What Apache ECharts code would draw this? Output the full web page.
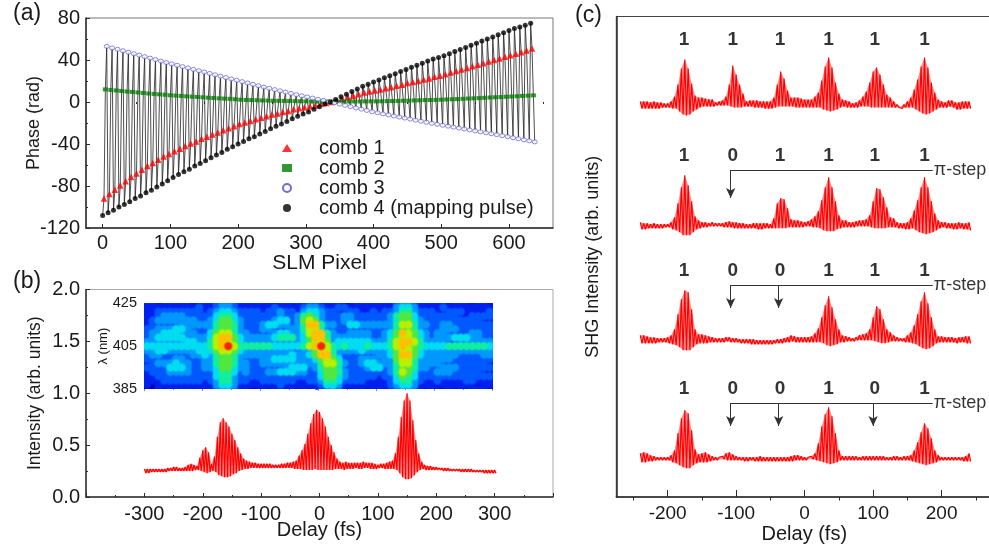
<!DOCTYPE html>
<html><head><meta charset="utf-8">
<style>html,body{margin:0;padding:0;background:#fff;overflow:hidden}#c{width:989px;height:545px}</style>
<script src="https://cdn.jsdelivr.net/npm/echarts@6/dist/echarts.min.js"></script>
</head><body><div id="c"></div>
<script>
// ---------- panel (a): phase of the four combs, one value every 8 SLM pixels
const combPeriod = 8;
const combOffsets = [0, 2, 4, 6];
const comb4 = [-108,-105.5,-103,-100,-97.5,-95,-92,-89.5,-86.5,-84,
 -81,-78,-75,-72,-69,-66.5,-64,-61,-58.5,-56,
 -53,-50.5,-48,-45,-42.5,-40,-37.5,-35,-33,-30.5,
 -28,-25.5,-23,-21,-18.5,-16,-13.5,-11.5,-9.5,-7,
 -4.5,-2,0,2.5,5,7.5,10,12.5,15,17,
 19,21,23,25,27,29,31,33,35,37,
 39,41,42.5,44,46,48,50,52,54,56,
 58,60,62,64,66,68,70,71.5,73,75];
const comb1 = [-92,-87.5,-83.5,-79.5,-75.5,-71.5,-68,-64.5,-61,-58,
 -55,-52,-49.5,-47,-44.5,-42,-39.5,-37.5,-35,-33,
 -31,-29,-27,-25,-23,-21,-19.5,-18,-16.5,-15,
 -13.5,-12,-11,-9.5,-8.5,-7,-6,-5,-4,-3,
 -2,-1,0,1.5,3,4.5,6,7.5,9,10,
 11,12,13,14,15.5,16.5,18,19,20,21.5,
 22.5,24,25,26.5,28,29.5,31,32.5,34,35.5,
 37,38.5,40,41.5,43,44.5,46,47.5,49,51];
const comb2 = [12,11.5,11,10.5,10,9.6,9.1,8.6,8.1,7.7,
 7.3,6.9,6.4,6.1,5.8,5.4,5.1,4.8,4.5,4.1,
 3.8,3.5,3.2,3,2.6,2.2,2,1.8,1.7,1.5,
 1.4,1.2,1.1,1,.9,.8,.7,.6,.5,.4,
 .4,.4,.4,.4,.4,.5,.5,.5,.6,.6,
 .6,.7,.8,.9,1,1.2,1.3,1.5,1.6,1.8,
 1.9,2,2.2,2.4,2.6,2.8,3,3.3,3.5,3.7,
 4,4.3,4.5,4.7,5,5.2,5.5,5.8,6,6.3];
const comb3 = [53,51.5,50.2,48.8,47.4,46,44.6,43.2,41.8,40.4,
 39,37.6,36.3,35,33.7,32.4,31.1,29.8,28.5,27.2,
 25.9,24.6,23.3,22,20.7,19.4,18.1,16.8,15.5,14.2,
 13,11.8,10.6,9.4,8.2,7,5.9,4.8,3.7,2.6,
 1.5,.3,-.8,-2,-3.2,-4.4,-5.6,-6.8,-8,-9.3,
 -10.3,-11.3,-12.3,-13.3,-14.3,-15.3,-16.3,-17.3,-18.3,-19.3,
 -20.3,-21.2,-22.1,-23,-23.9,-24.8,-25.7,-26.6,-27.5,-28.4,
 -29.3,-30.2,-31.1,-32,-33,-34,-35,-36,-37,-38];
const combNames = ['comb 1','comb 2','comb 3','comb 4 (mapping pulse)'];

// ---------- panel (b): upper and lower fringe envelope, every 5 fs from -300 to 300
const bStart = -300, bStep = 5;
const bUpper = [.27,.27,.27,.27,.27,.27,.27,.27,.28,.28,
 .29,.29,.28,.28,.29,.31,.32,.31,.30,.38,
 .45,.48,.43,.32,.39,.58,.72,.76,.72,.68,
 .61,.55,.48,.42,.37,.35,.34,.33,.33,.32,
 .32,.32,.32,.32,.31,.31,.31,.32,.32,.33,
 .33,.34,.35,.40,.45,.51,.61,.71,.80,.84,
 .82,.76,.68,.58,.50,.43,.37,.34,.33,.34,
 .33,.33,.33,.33,.33,.34,.33,.33,.33,.32,
 .31,.32,.32,.33,.34,.35,.42,.58,.77,.93,
 1.0,.93,.74,.55,.42,.34,.31,.30,.30,.29,
 .29,.28,.28,.28,.28,.27,.27,.27,.27,.27,
 .27,.27,.27,.26,.26,.26,.26,.26,.26,.26,.26];
const bLower = [.23,.23,.24,.24,.24,.24,.24,.24,.25,.25,
 .25,.25,.25,.25,.25,.25,.25,.26,.26,.25,
 .24,.23,.24,.25,.24,.21,.20,.19,.19,.20,
 .22,.23,.25,.26,.27,.27,.28,.28,.28,.28,
 .28,.28,.28,.28,.28,.28,.28,.28,.28,.28,
 .28,.27,.27,.27,.26,.26,.26,.26,.27,.26,
 .26,.26,.26,.26,.26,.27,.27,.27,.26,.27,
 .27,.27,.28,.27,.27,.28,.28,.27,.27,.27,
 .28,.28,.27,.27,.27,.27,.26,.23,.19,.17,
 .17,.18,.21,.24,.26,.27,.26,.26,.26,.26,
 .26,.26,.25,.25,.25,.25,.25,.25,.24,.24,
 .24,.24,.24,.24,.24,.24,.23,.23,.23,.23,.23];

// ---------- inset of (b): spectrogram levels 0-9, rows 425 to 385 nm, columns 10 fs wide
const heatDelayStart = -300, heatDelayStep = 10, heatNmStart = 425, heatNmStep = -2;
const heatRows = [
"1101111101 1123321111 1101111122 1111001111 1112332111 1101110110",
"1111111112 1123321111 1121111233 2112211111 1113443111 1211111111",
"1122222222 1234432222 1223221344 3221122112 1223553222 1122211112",
"1123333222 2245542222 2223223564 3222332222 2235664222 2222112222",
"1233333332 2346643222 2234423676 3222332222 2234664322 2222222211",
"1222223333 3356653222 3443323588 5332244333 3335775332 2332222222",
"2233344322 2356653222 3322233577 4222222222 2235665322 2333222222",
"2334443332 2467753322 2234433478 8532233332 2346876432 3322223322",
"2344444333 3478864333 3345553468 8533333332 2346776432 3334443322",
"3333333443 3578764333 3333333457 7634444443 3357887533 3322333333",
"4444444444 4578975555 5544444578 9754544454 4457876544 4455555554",
"3344333334 4467764333 3333322336 7753333433 3346776433 3333333333",
"2332222233 4356653333 3333343346 8853222222 3346886433 3333222233",
"2222233222 3356653222 3344443324 6764222333 2336775333 3332222222",
"1233343322 3356653322 3333333333 5775322344 3335775333 3222222221",
"2222444322 3346643322 2222344423 5664222234 4235665332 2333222222",
"1222333322 2245542322 2334443322 4665322222 2235764222 3332222211",
"1122222222 2245532222 2222222222 4664322222 1224654222 2222222222",
"1112222222 1235532211 2222221122 3554222211 1124553211 2111122111",
"1011111111 1134431111 1112111111 2443111111 1123443111 1111111011",
"0010111101 1123321100 1011110101 1232101101 1012332101 0010101110"];

// ---------- panel (c): fringe envelopes relative to each trace baseline, every 5 fs from -240 to 240
const cStart = -240, cStep = 5;
const c1Upper = [3,3,3,2,3,2,2,1,1,3, 8,20,36,45,36,21,9,7,7,6, 5,5,2,3,4,8,20,39,30,20,
 11,3,4,4,4,3,3,3,3,7, 20,33,26,14,7,7,7,6,5,5, 5,8,12,24,38,47,37,22,11,5,
 4,3,1,2,4,8,13,22,33,37, 30,20,10,7,3,0,-2,0,3,7, 15,25,38,47,37,22,12,5,3,2, 4,4,2,2,3,3,3];
const c1Lower = [-4,-4,-4,-4,-4,-4,-3,-3,-3,-4, -4,-7,-10,-11,-10,-7,-5,-3,-2,-2, -2,-2,-1,-1,-1,-1,-2,-3,-3,-3,
 -2,-2,-2,-3,-3,-3,-4,-4,-4,-3, -2,-2,-2,-2,-2,-3,-3,-3,-3,-3, -3,-3,-3,-5,-6,-7,-6,-5,-3,-2,
 -3,-3,-3,-3,-2,-2,-2,-3,-3,-3, -3,-3,-3,-3,-3,-3,-4,-3,-3,-3, -5,-7,-9,-10,-9,-7,-5,-3,-3,-3, -2,-3,-5,-5,-4,-4,-4];
const c2Upper = [3,2,2,1,2,1,1,1,1,3, 8,22,38,50,40,24,9,5,3,3, 2,3,2,2,2,3,4,3,3,2,
 2,1,1,2,2,2,2,2,1,7, 22,27,26,17,6,5,5,4,3,4, 6,9,14,25,38,48,38,24,10,5,
 5,3,3,4,5,5,6,10,24,37, 36,28,18,8,7,3,2,2,3,7, 15,25,38,48,38,24,12,5,3,3, 2,2,2,3,2,2,3];
const c2Lower = [-4,-4,-3,-3,-3,-3,-3,-2,-2,-4, -5,-7,-10,-10,-10,-7,-4,-3,-2,-2, -1,-1,-1,-1,-2,-2,-2,-3,-3,-3,
 -3,-3,-3,-3,-4,-4,-3,-3,-3,-3, -3,-3,-3,-2,-2,-2,-2,-2,-1,-1, -2,-2,-3,-5,-6,-6,-6,-4,-3,-2,
 -2,-2,-2,-1,-1,-1,-1,-2,-3,-3, -3,-3,-2,-2,-2,-3,-3,-4,-4,-3, -5,-7,-8,-9,-8,-7,-5,-3,-2,-3, -3,-4,-4,-3,-4,-4,-5];
const c3Upper = [4,4,3,2,2,1,1,1,2,4, 10,25,40,49,47,30,10,5,5,4, 3,2,1,1,1,2,2,1,1,0,
 0,0,0,0,-1,-1,-1,-1,-1,-1, 0,0,1,2,4,3,2,2,2,2, 3,6,11,22,34,43,32,20,10,4,
 3,2,1,2,4,5,6,10,22,33, 30,20,10,7,4,2,1,1,4,7, 14,25,38,47,36,22,10,3,3,2, 2,2,1,2,2,3,3];
const c3Lower = [-4,-4,-4,-4,-4,-3,-3,-3,-4,-5, -6,-8,-11,-11,-11,-8,-5,-4,-4,-4, -3,-3,-3,-3,-3,-2,-3,-3,-3,-4,
 -4,-4,-5,-5,-5,-5,-5,-5,-5,-4, -4,-4,-3,-3,-2,-3,-3,-3,-3,-3, -3,-3,-3,-4,-6,-7,-6,-5,-3,-3,
 -2,-2,-2,-1,-1,-1,-1,-1,-2,-3, -4,-4,-3,-2,-2,-2,-2,-3,-3,-4, -5,-7,-9,-10,-9,-7,-4,-3,-3,-3, -3,-3,-4,-3,-3,-4,-4];
const c4Upper = [5,6,5,3,2,1,1,1,1,3, 8,25,40,48,45,28,9,4,5,6, 4,2,1,1,2,5,6,4,2,1,
 1,1,1,1,1,2,1,1,1,1, 1,1,1,1,2,3,3,2,1,1, 2,5,15,32,44,51,42,25,8,2,
 2,2,2,2,1,2,2,2,2,2, 2,2,1,1,2,2,1,2,2,3, 8,16,26,35,30,20,8,3,1,1, 1,1,1,1,1,2,5];
const c4Lower = [-4,-4,-3,-3,-2,-2,-2,-2,-2,-4, -5,-7,-9,-10,-10,-7,-5,-4,-4,-4, -3,-2,-2,-1,-1,-2,-2,-2,-2,-2,
 -3,-3,-2,-3,-3,-3,-3,-3,-3,-3, -3,-3,-3,-3,-3,-2,-2,-2,-2,-1, -1,-2,-3,-4,-5,-6,-5,-4,-2,-2,
 -2,-2,-2,-2,-2,-2,-2,-2,-2,-2, -2,-2,-2,-2,-2,-2,-2,-2,-2,-3, -4,-5,-6,-7,-6,-5,-4,-2,-2,-2, -2,-2,-2,-2,-3,-3,-3];
const cBaselines = [392.5, 271.7, 157.7, 38.7];

// bit words above each trace
const bitDelays = [-176,-105,-36,35,102.5,175];
const bitWords = ['111111','101111','100111','100101'];
const bitHeights = [457,341,226,108];
// pi-step annotations: [line height, arrow tip height, arrow delays]
const stepHeights = [327,212,94];
const stepTips = [299,189,71];
const stepDelays = [[-108],[-108,-38],[-108,-38,100]];
const stepLineEnd = 187;

// ---------- axis labels
const aXTicks = [0,100,200,300,400,500,600];
const aXMinor = [50,150,250,350,450,550,650];
const cXTicks = [-200,-100,0,100,200];
const cXMinor = [-250,-150,-50,50,150,250];

const FONT = '"Liberation Sans", Arial, sans-serif';
const INK = '#2b2b2b';
const heatColors = ['#0000b4','#0020f0','#0058ff','#0098ff','#00dcf0','#10eea0','#50e840','#b8f000','#ffc000','#ff2000'];

const zigzag = (start, step, up, lo, base) => {
  const out = [];
  up.forEach((u, i) => {
    out.push([start + i*step, base + u]);
    out.push([start + i*step + step/2, base + lo[i]]);
  });
  return out;
};
const envelope = (name, xIdx, yIdx, start, step, up, lo, base) => ({
  type:'custom', name, xAxisIndex:xIdx, yAxisIndex:yIdx, silent:true, z:3,
  data:[[start, base]], clip:false,
  renderItem:(p, api) => {
    const top = up.map((u,i)=>api.coord([start+i*step, base+u]));
    const bot = lo.map((l,i)=>api.coord([start+i*step+step/2, base+l])).reverse();
    return {type:'polygon', shape:{points:top.concat(bot)}, style:{fill:'rgba(255,0,0,0.45)'}};
  }
});
const traceLine = (name, xIdx, yIdx, start, step, up, lo, base) => ({
  type:'line', name, xAxisIndex:xIdx, yAxisIndex:yIdx, z:4, silent:true,
  showSymbol:false, symbol:'none', smooth:false, clip:false,
  lineStyle:{color:'#ff0000', width:1.15},
  data:zigzag(start, step, up, lo, base)
});

const bandAxis = {axisLine:{show:true,onZero:false,lineStyle:{color:INK,width:1.5}}};
const label = (size) => ({color:'#1a1a1a', fontFamily:FONT, fontSize:size});

const grids = [
  {left:86, top:18, width:467, height:210, show:true, borderColor:'#777', borderWidth:1, backgroundColor:'transparent', outerBoundsMode:'none'},
  {left:86, top:289.5, width:467, height:207.5, show:true, borderColor:'#aaa', borderWidth:1, backgroundColor:'transparent', outerBoundsMode:'none'},
  {left:144, top:303.3, width:348.7, height:85.7, show:true, borderWidth:0, backgroundColor:heatColors[1], outerBoundsMode:'none'},
  {left:616.3, top:16.5, width:376, height:480.5, show:true, borderColor:'#444', borderWidth:1, backgroundColor:'transparent', outerBoundsMode:'none'}
];
const nameStyle = (size) => ({color:'#1a1a1a', fontFamily:FONT, fontSize:size});

const xAxes = [
  {type:'value', gridIndex:0, min:-24.6, max:665, ...bandAxis, splitLine:{show:false},
   axisTick:{show:true, inside:true, length:4, customValues:aXTicks, lineStyle:{color:INK}},
   axisLabel:{...label(20), margin:5, customValues:aXTicks},
   name:'SLM Pixel', nameLocation:'middle', nameGap:25, nameMoveOverlap:false, nameTextStyle:nameStyle(21)},
  {type:'value', gridIndex:0, min:-24.6, max:665, axisLine:{show:false}, splitLine:{show:false},
   axisTick:{show:true, inside:true, length:2, customValues:aXMinor, lineStyle:{color:INK}},
   axisLabel:{show:false}},
  {type:'value', gridIndex:1, min:-400, max:400, interval:100, ...bandAxis, splitLine:{show:false},
   axisTick:{show:true, inside:true, length:4, lineStyle:{color:INK}},
   minorTick:{show:true, splitNumber:2, length:2, lineStyle:{color:INK}}, minorSplitLine:{show:false},
   axisLabel:{...label(20), margin:7, formatter:v=>Math.abs(v)===400?'':String(v)},
   name:'Delay (fs)', nameLocation:'middle', nameGap:23, nameMoveOverlap:false, nameTextStyle:nameStyle(20)},
  {type:'value', gridIndex:2, min:-300, max:300, interval:100, position:'bottom',
   axisLine:{show:false}, splitLine:{show:false},
   axisTick:{show:true, length:2, lineStyle:{color:'#888'}},
   minorTick:{show:true, splitNumber:2, length:1, lineStyle:{color:'#888'}},
   axisLabel:{show:false}},
  {type:'value', gridIndex:3, min:-275, max:274, ...bandAxis, splitLine:{show:false},
   axisTick:{show:true, inside:true, length:7, customValues:cXTicks, lineStyle:{color:INK}},
   axisLabel:{...label(19), margin:7, customValues:cXTicks},
   name:'Delay (fs)', nameLocation:'middle', nameGap:27, nameMoveOverlap:false, nameTextStyle:nameStyle(20)},
  {type:'value', gridIndex:3, min:-275, max:274, axisLine:{show:false}, splitLine:{show:false},
   axisTick:{show:true, inside:true, length:3.5, customValues:cXMinor, lineStyle:{color:INK}},
   axisLabel:{show:false}}
];
const yAxes = [
  {type:'value', gridIndex:0, min:-120, max:80, interval:40, ...bandAxis, splitLine:{show:false},
   axisTick:{show:true, inside:true, length:4, lineStyle:{color:INK}},
   minorTick:{show:true, splitNumber:2, length:2, lineStyle:{color:INK}}, minorSplitLine:{show:false},
   axisLabel:{...label(20), margin:6, formatter:v=>String(v)},
   name:'Phase (rad)', nameLocation:'middle', nameGap:43, nameMoveOverlap:false, nameTextStyle:nameStyle(18)},
  {type:'value', gridIndex:1, min:0, max:2, interval:0.5, ...bandAxis, splitLine:{show:false},
   axisTick:{show:true, inside:true, length:4, lineStyle:{color:INK}},
   minorTick:{show:true, splitNumber:2, length:2, lineStyle:{color:INK}}, minorSplitLine:{show:false},
   axisLabel:{...label(20), margin:6, formatter:v=>v.toFixed(1)},
   name:'Intensity (arb. units)', nameLocation:'middle', nameGap:42, nameMoveOverlap:false, nameTextStyle:nameStyle(17.5)},
  {type:'value', gridIndex:2, min:385, max:425, interval:20, position:'left',
   axisLine:{show:false}, splitLine:{show:false},
   axisTick:{show:true, length:3, lineStyle:{color:'#666'}},
   minorTick:{show:true, splitNumber:2, length:2, lineStyle:{color:'#666'}},
   axisLabel:{...label(14.5), margin:7},
   name:'λ (nm)', nameLocation:'middle', nameGap:34, nameMoveOverlap:false, nameTextStyle:nameStyle(13)},
  {type:'value', gridIndex:3, min:0, max:480.5, ...bandAxis, splitLine:{show:false},
   axisTick:{show:false}, axisLabel:{show:false},
   name:'SHG Intensity (arb. units)', nameLocation:'middle', nameGap:14, nameMoveOverlap:false, nameTextStyle:nameStyle(18)}
];

// comb sequence: comb 4, 1, 2, 3 repeating, joined by a thin line
const combSets = [comb1, comb2, comb3, comb4];
const combOffsetOf = [combOffsets[1], combOffsets[2], combOffsets[3], combOffsets[0]];
const combPoints = k => combSets[k].map((v,i)=>[i*combPeriod+combOffsetOf[k], v]);
const sequence = [];
comb4.forEach((_,i)=>{ [3,0,1,2].forEach(k=>sequence.push(combPoints(k)[i])); });
const combStyle = [
  {symbol:'triangle', symbolSize:6.5, itemStyle:{color:'#ff0000'}},
  {symbol:'rect', symbolSize:[5,4], itemStyle:{color:'#007a00'}},
  {symbol:'circle', symbolSize:[5,4], itemStyle:{color:'#fff', borderColor:'#4a4ac8', borderWidth:0.8}},
  {symbol:'circle', symbolSize:5, itemStyle:{color:'#000'}}
];

const heatData = [];
heatRows.forEach((r,ri)=>{ r.replace(/ /g,'').split('').forEach((ch,ci)=>{
  heatData.push([heatDelayStart+ci*heatDelayStep, heatNmStart+ri*heatNmStep, +ch]);
});});
heatData.sort((a,b)=>a[2]-b[2]);
const transparentOf = hex => 'rgba('+parseInt(hex.slice(1,3),16)+','+parseInt(hex.slice(3,5),16)+','+parseInt(hex.slice(5,7),16)+',0)';

const bitData = [];
bitWords.forEach((w,ri)=>w.split('').forEach((b,ci)=>bitData.push([bitDelays[ci], bitHeights[ri], b])));
const stepLines = [];
stepHeights.forEach((h,ri)=>{
  stepLines.push([{coord:[stepDelays[ri][0],h],symbol:'none'},{coord:[stepLineEnd,h],symbol:'none'}]);
  stepDelays[ri].forEach(t=>stepLines.push([{coord:[t,h],symbol:'none'},{coord:[t,stepTips[ri]],symbol:'arrow'}]));
});

const series = [
  {type:'line', name:'sequence', xAxisIndex:0, yAxisIndex:0, z:2, silent:true, showSymbol:false, symbol:'none',
   lineStyle:{color:'#222', width:0.8}, data:sequence},
  ...combNames.map((n,k)=>({type:'scatter', name:n, xAxisIndex:0, yAxisIndex:0, z:3, silent:true,
     ...combStyle[k], data:combPoints(k)})),
  {type:'custom', name:'spectrogram', xAxisIndex:3, yAxisIndex:2, silent:true, z:2, clip:true,
   encode:{x:0,y:1}, data:heatData,
   renderItem:(p, api)=>{
     const t=api.value(0), nm=api.value(1), lv=api.value(2);
     const a=api.coord([t-heatDelayStep*0.8,nm+2.4]), b=api.coord([t+heatDelayStep*1.8,nm-2.4]);
     const col=heatColors[lv];
     return {type:'rect', shape:{x:a[0],y:a[1],width:b[0]-a[0],height:b[1]-a[1]},
       style:{fill:new echarts.graphic.RadialGradient(0.5,0.5,0.5,[
         {offset:0,color:col},{offset:0.55,color:col},{offset:1,color:transparentOf(col)}])}};
   }},
  envelope('b-env',2,1,bStart,bStep,bUpper,bLower,0),
  traceLine('b',2,1,bStart,bStep,bUpper,bLower,0),
  envelope('c1-env',4,3,cStart,cStep,c1Upper,c1Lower,cBaselines[0]),
  traceLine('c1',4,3,cStart,cStep,c1Upper,c1Lower,cBaselines[0]),
  envelope('c2-env',4,3,cStart,cStep,c2Upper,c2Lower,cBaselines[1]),
  traceLine('c2',4,3,cStart,cStep,c2Upper,c2Lower,cBaselines[1]),
  envelope('c3-env',4,3,cStart,cStep,c3Upper,c3Lower,cBaselines[2]),
  traceLine('c3',4,3,cStart,cStep,c3Upper,c3Lower,cBaselines[2]),
  envelope('c4-env',4,3,cStart,cStep,c4Upper,c4Lower,cBaselines[3]),
  traceLine('c4',4,3,cStart,cStep,c4Upper,c4Lower,cBaselines[3]),
  {type:'scatter', name:'bits', xAxisIndex:4, yAxisIndex:3, z:5, silent:true, symbolSize:0, clip:false,
   data:bitData,
   label:{show:true, position:'inside', formatter:p=>p.value[2], color:'#000', fontFamily:FONT, fontSize:19, fontWeight:'bold'},
   markLine:{silent:true, animation:false, symbolSize:[7,10], label:{show:false},
     lineStyle:{color:'#333', width:1, type:'solid'}, emphasis:{disabled:true}, data:stepLines}},
  {type:'scatter', name:'pi-step', xAxisIndex:4, yAxisIndex:3, z:5, silent:true, symbolSize:0, clip:false,
   data:stepHeights.map(h=>[stepLineEnd,h,'π-step']),
   label:{show:true, position:'right', distance:1, formatter:p=>p.value[2], color:'#000', fontFamily:FONT, fontSize:18}}
];

const chart = echarts.init(document.getElementById('c'), null, {renderer:'canvas'});
chart.setOption({
  animation:false, backgroundColor:'#fff', grid:grids, xAxis:xAxes, yAxis:yAxes, series,
  legend:{show:true, data:combNames, orient:'vertical', left:282, top:138, padding:0, itemWidth:10, itemHeight:8, itemGap:0,
    selectedMode:false, align:'left', textStyle:{color:'#1a1a1a', fontFamily:FONT, fontSize:20, padding:[0,0,0,22], lineHeight:20}},
  graphic:[
    {type:'text', left:13, top:2, style:{text:'(a)', font:'23px '+FONT.replace(/"/g,''), fill:'#1a1a1a'}},
    {type:'text', left:13, top:270, style:{text:'(b)', font:'23px '+FONT.replace(/"/g,''), fill:'#1a1a1a'}},
    {type:'text', left:575, top:4, style:{text:'(c)', font:'23px '+FONT.replace(/"/g,''), fill:'#1a1a1a'}}
  ]
});
</script></body></html>
